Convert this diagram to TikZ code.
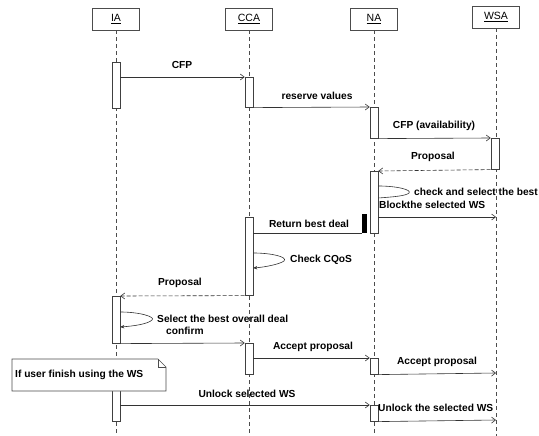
\documentclass[tikz,border=0pt]{standalone}
\usepackage{fontspec}
\setmainfont{Liberation Sans}
\usetikzlibrary{arrows.meta}
\begin{document}
\begin{tikzpicture}[x=1pt,y=-1pt,
  every node/.style={font=\fontsize{10.2}{12}\selectfont\bfseries},
  head/.style={draw=black!70, fill=white, minimum width=47pt, minimum height=22pt, inner sep=0pt, font=\fontsize{10.5}{12}\selectfont},
  life/.style={draw=black!70, dashed, dash pattern=on 4pt off 3pt, line width=0.6pt},
  act/.style={draw=black!75, fill=white, minimum width=8pt, inner sep=0pt, line width=0.6pt},
  msg/.style={draw=black!80, line width=0.6pt, -{Straight Barb[length=4pt,width=6pt]}},
  rmsg/.style={msg, dashed, dash pattern=on 4pt off 2pt},
  loop/.style={draw=black!80, line width=0.6pt},
  lbl/.style={inner sep=0pt}
]
\useasboundingbox (0,0) rectangle (539,436);
% headers
\node[head] (hIA) at (116,19) {\underline{IA}};
\node[head] (hCCA) at (249,19) {\underline{CCA}};
\node[head] (hNA) at (374,19) {\underline{NA}};
\node[head] (hWSA) at (496,17) {\underline{WSA}};
% lifeline ends
\coordinate (eIA) at (116,436);
\coordinate (eCCA) at (249,436);
\coordinate (eNA) at (374,436);
\coordinate (eWSA) at (496,436);
\draw[life] (hIA.south) -- (eIA);
\draw[life] (hCCA.south) -- (eCCA);
\draw[life] (hNA.south) -- (eNA);
\draw[life] (hWSA.south) -- (eWSA);
% activations
\node[act, anchor=north, minimum height=46pt] (ia1) at (116,62) {};
\node[act, anchor=north, minimum height=30pt] (cca1) at (249,77) {};
\node[act, anchor=north, minimum height=31pt] (na1) at (374,107) {};
\node[act, anchor=north, minimum height=31pt] (wsa1) at (495,138) {};
\node[act, anchor=north, minimum height=62pt] (na2) at (374,171) {};
\node[act, anchor=north, minimum height=78pt] (cca2) at (249,217) {};
\node[act, anchor=north, minimum height=47pt] (ia2) at (116,296) {};
\node[act, anchor=north, minimum height=31pt] (cca3) at (249,343) {};
\node[act, anchor=north, minimum height=16pt] (na3) at (374,358) {};
\node[act, anchor=north, minimum height=31pt] (ia3) at (116,390) {};
\node[act, anchor=north, minimum height=16pt] (na4) at (374,405) {};
\node[fill=black, minimum width=5pt, minimum height=19pt, inner sep=0pt, anchor=south west] (bar) at (362,233) {};
% free ends on WSA lifeline
\coordinate (blkEnd) at (496,217);
\coordinate (acc2End) at (496,373);
\coordinate (unl2End) at (496,420);
% messages
\draw[msg] (ia1.east |- cca1.north) -- (cca1.north west);
\node[lbl] (tCFP) at (182,65) {CFP};
\draw[msg] (cca1.south east) -- (na1.north west);
\node[lbl] (tRes) at (317,96) {reserve values};
\draw[msg] (na1.south east) -- (wsa1.north west);
\node[lbl] (tCFPa) at (434,126) {CFP (availability)};
\draw[rmsg] (wsa1.south west) -- (na2.north east);
\node[lbl] (tProp1) at (433,157) {Proposal};
% self loop NA
\coordinate (nl1) at (na2.east |- 0,186);
\coordinate (nl2) at (na2.east |- 0,198);
\draw[loop] (nl1) .. controls (398,186) and (412,190) .. (409,193) .. controls (406,196) and (392,197) .. (nl2);
\node[lbl, anchor=west] (tChk) at (414,192) {check and select the best};
\node[lbl, anchor=west] (tBlk) at (379,205) {Blockthe selected WS};
\draw[msg] (na2.east |- blkEnd) -- (blkEnd);
\draw[loop] (bar.south west) -- (cca2.east |- bar.south);
\node[lbl] (tRet) at (309,224) {Return best deal};
% self loop CCA
\coordinate (cl1) at (cca2.east |- 0,253);
\coordinate (cl2) at (cca2.east |- 0,268);
\draw[loop, -{Stealth[length=4pt,width=3.5pt]}] (cl1) .. controls (272,253) and (288,257) .. (284,261) .. controls (280,264) and (266,267) .. (cl2);
\node[lbl, anchor=west] (tCQ) at (290,260) {Check CQoS};
\draw[rmsg] (cca2.south west) -- (ia2.north east);
\node[lbl] (tProp2) at (180,283) {Proposal};
% self loop IA
\coordinate (il1) at (ia2.east |- 0,312);
\coordinate (il2) at (ia2.east |- 0,327);
\draw[loop, -{Stealth[length=4pt,width=3.5pt]}] (il1) .. controls (140,312) and (156,317) .. (152,320) .. controls (148,324) and (134,326) .. (il2);
\node[lbl, anchor=west] (tSel) at (157,319) {Select the best overall deal};
\node[lbl, anchor=west] (tConf) at (166,331) {confirm};
\draw[msg] (ia2.south east) -- (cca3.north west);
\draw[msg] (cca3.east |- na3.north) -- (na3.north west);
\node[lbl] (tAcc1) at (313,347) {Accept proposal};
\draw[msg] (na3.south east) -- (acc2End);
\node[lbl] (tAcc2) at (437,362) {Accept proposal};
% note
\coordinate (n1) at (12,359);
\coordinate (n2) at (158,359);
\coordinate (n3) at (166,367);
\coordinate (n4) at (166,391);
\coordinate (n5) at (12,391);
\draw[draw=black!70, fill=white, line width=0.6pt] (n1) -- (n2) -- (n3) -- (n4) -- (n5) -- cycle;
\draw[draw=black!70, line width=0.6pt] (n2) -- (158,367) -- (n3);
\node[lbl, anchor=west] (tNote) at (15,375) {If user finish using the WS};
\draw[msg] (ia3.east |- na4.north) -- (na4.north west);
\node[lbl] (tUnl1) at (247,394) {Unlock selected WS};
\draw[msg] (na4.south east) -- (unl2End);
\node[lbl, anchor=west] (tUnl2) at (378,408) {Unlock the selected WS};
\end{tikzpicture}
\end{document}
